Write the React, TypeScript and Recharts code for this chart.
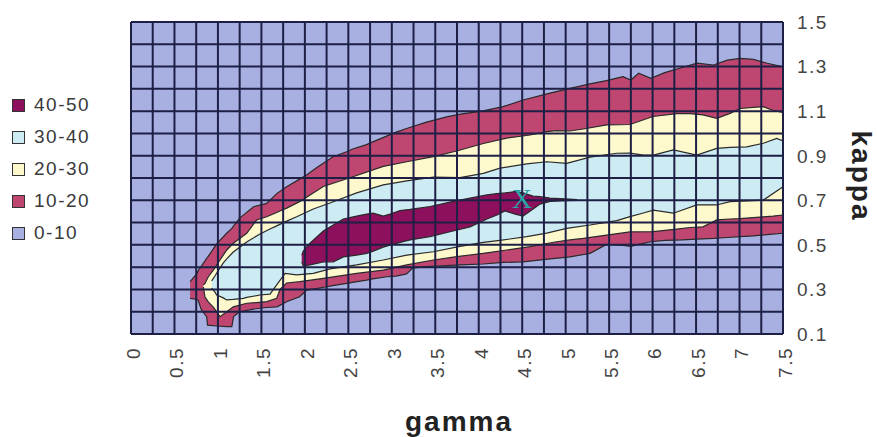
import React from 'react';
import {
  Area,
  CartesianGrid,
  ComposedChart,
  Label,
  Legend,
  Scatter,
  XAxis,
  YAxis,
} from 'recharts';

// legend order, highest level first
const levels = ['40-50', '30-40', '20-30', '10-20', '0-10'];

const gammaTicks = [
  0, 0.25, 0.5, 0.75, 1, 1.25, 1.5, 1.75, 2, 2.25, 2.5, 2.75, 3, 3.25, 3.5, 3.75,
  4, 4.25, 4.5, 4.75, 5, 5.25, 5.5, 5.75, 6, 6.25, 6.5, 6.75, 7, 7.25, 7.5,
];
const gammaLabels = ['0', '0.5', '1', '1.5', '2', '2.5', '3', '3.5', '4', '4.5', '5', '5.5', '6', '6.5', '7', '7.5'];
const kappaTicks = [0.1, 0.2, 0.3, 0.4, 0.5, 0.6, 0.7, 0.8, 0.9, 1, 1.1, 1.2, 1.3, 1.4, 1.5];
const kappaLabels = ['0.1', '0.3', '0.5', '0.7', '0.9', '1.1', '1.3', '1.5'];

// 0-10: whole plot
const gamma0 = [0, 7.5];
const low0 = [0.1, 0.1];
const high0 = [1.5, 1.5];

// 10-20 band
const gamma10 = [
  0.68, 0.76, 0.77, 0.81, 0.87, 0.88, 0.99, 1.1, 1.16, 1.18, 1.25, 1.41, 1.56, 1.68, 1.79, 1.94, 2.02,
  2.13, 2.25, 2.32, 2.48, 2.55, 2.71, 2.78, 2.94, 3.05, 3.17, 3.24, 3.4, 3.63, 3.79, 4.05, 4.28, 4.51,
  4.82, 5.05, 5.28, 5.47, 5.66, 5.75, 5.84, 5.98, 6.14, 6.34, 6.51, 6.7, 6.86, 7.01, 7.16, 7.32, 7.5,
];
const low10 = [
  0.26, 0.255, 0.253, 0.208, 0.178, 0.14, 0.136, 0.133, 0.133, 0.178, 0.2, 0.212, 0.219, 0.222, 0.245,
  0.267, 0.297, 0.304, 0.312, 0.317, 0.327, 0.332, 0.342, 0.347, 0.357, 0.36, 0.37, 0.396, 0.403, 0.407,
  0.41, 0.414, 0.421, 0.424, 0.437, 0.446, 0.462, 0.502, 0.497, 0.493, 0.502, 0.514, 0.52, 0.522, 0.526,
  0.529, 0.533, 0.537, 0.54, 0.546, 0.552,
];
const high10 = [
  0.335, 0.372, 0.383, 0.405, 0.439, 0.444, 0.507, 0.552, 0.574, 0.585, 0.62, 0.671, 0.686, 0.731, 0.761,
  0.795, 0.813, 0.845, 0.876, 0.894, 0.918, 0.93, 0.95, 0.962, 0.988, 1.006, 1.022, 1.031, 1.051, 1.074,
  1.087, 1.101, 1.12, 1.15, 1.181, 1.202, 1.222, 1.237, 1.255, 1.24, 1.27, 1.247, 1.273, 1.296, 1.315,
  1.307, 1.329, 1.337, 1.332, 1.315, 1.299,
];

// 20-30 band
const gamma20 = [
  0.832, 0.851, 0.889, 0.947, 1.024, 1.101, 1.177, 1.331, 1.446, 1.561, 1.676, 1.714, 1.791, 1.944, 2.212,
  2.596, 2.902, 3.172, 3.478, 3.747, 4.053, 4.322, 4.59, 4.782, 4.897, 5.05, 5.203, 5.472, 5.74, 6.005,
  6.278, 6.431, 6.58, 6.738, 6.891, 7.006, 7.271, 7.386, 7.5,
];
const low20 = [
  0.311, 0.266, 0.244, 0.221, 0.178, 0.2, 0.222, 0.238, 0.241, 0.245, 0.26, 0.3, 0.329, 0.335, 0.35,
  0.372, 0.387, 0.41, 0.432, 0.447, 0.462, 0.477, 0.492, 0.506, 0.514, 0.522, 0.529, 0.544, 0.558, 0.559,
  0.571, 0.578, 0.581, 0.612, 0.616, 0.618, 0.626, 0.629, 0.634,
];
const high20 = [
  0.32, 0.327, 0.357, 0.387, 0.432, 0.477, 0.507, 0.552, 0.612, 0.626, 0.645, 0.652, 0.665, 0.695, 0.762,
  0.811, 0.852, 0.873, 0.896, 0.921, 0.955, 0.979, 0.993, 1.008, 1.013, 1.011, 1.02, 1.038, 1.04, 1.076,
  1.089, 1.089, 1.083, 1.068, 1.09, 1.112, 1.12, 1.103, 1.094,
];

// 30-40 band
const gamma30 = [
  0.928, 0.966, 0.986, 1.062, 1.101, 1.177, 1.292, 1.331, 1.484, 1.599, 1.676, 1.772, 1.906, 2.097, 2.289,
  2.596, 2.902, 3.172, 3.478, 3.785, 4.053, 4.245, 4.552, 4.782, 5.012, 5.28, 5.588, 5.74, 5.894, 6.009,
  6.239, 6.508, 6.738, 6.891, 7.083, 7.274, 7.428, 7.5,
];
const low30 = [
  0.306, 0.288, 0.275, 0.262, 0.253, 0.255, 0.26, 0.264, 0.275, 0.279, 0.32, 0.372, 0.365, 0.372, 0.392,
  0.41, 0.432, 0.454, 0.469, 0.493, 0.511, 0.52, 0.537, 0.553, 0.574, 0.589, 0.609, 0.627, 0.643, 0.656,
  0.642, 0.679, 0.679, 0.694, 0.697, 0.701, 0.742, 0.761,
];
const high30 = [
  0.338, 0.36, 0.374, 0.419, 0.437, 0.468, 0.502, 0.513, 0.549, 0.571, 0.585, 0.603, 0.626, 0.661, 0.688,
  0.733, 0.769, 0.787, 0.804, 0.802, 0.821, 0.844, 0.863, 0.873, 0.866, 0.894, 0.911, 0.912, 0.903, 0.903,
  0.926, 0.903, 0.933, 0.937, 0.94, 0.956, 0.978, 0.966,
];

// 40-50 band
const gamma40 = [
  1.964, 1.982, 2.059, 2.212, 2.327, 2.442, 2.596, 2.712, 2.787, 2.902, 2.98, 3.095, 3.21, 3.44, 3.67,
  3.9, 4.095, 4.21, 4.302, 4.418, 4.51, 4.625, 4.705, 4.82, 4.993, 5.131,
];
const low40 = [
  0.423, 0.405, 0.41, 0.423, 0.424, 0.446, 0.454, 0.462, 0.472, 0.49, 0.499, 0.511, 0.522, 0.537, 0.559,
  0.581, 0.616, 0.634, 0.652, 0.638, 0.629, 0.661, 0.683, 0.695, 0.698, 0.7,
];
const high40 = [
  0.454, 0.472, 0.508, 0.562, 0.589, 0.616, 0.629, 0.638, 0.642, 0.629, 0.638, 0.654, 0.659, 0.672, 0.692,
  0.71, 0.724, 0.73, 0.733, 0.739, 0.733, 0.719, 0.716, 0.71, 0.706, 0.703,
];

// the "X" marker
const markGamma = [4.5];
const markKappa = [0.71];

const levelColors: Record<string, string> = {
  '40-50': '#8c105c',
  '30-40': '#cdebf3',
  '20-30': '#fdf9cc',
  '10-20': '#bf4670',
  '0-10': '#a8b0e2',
};

const FONT = '"Liberation Sans", Arial, Helvetica, sans-serif';
const GRID = '#1d1f45';
const EDGE = '#2a2a2a';

function band(g: number[], lo: number[], hi: number[]) {
  return g.map((v, i) => ({ gamma: v, k: [lo[i], hi[i]] }));
}

const marker = markGamma.map((g, i) => ({ gamma: g, kappa: markKappa[i] }));

function GammaTick(props: any) {
  const { x, y, payload } = props;
  const label = String(payload.value);
  if (!gammaLabels.includes(label)) return <g />;
  return (
    <text
      transform={`translate(${x + 2},${y}) rotate(-90)`}
      textAnchor="end"
      dy="0.36em"
      fontSize={19}
      letterSpacing={1.5}
      fill="#444"
      fontFamily={FONT}
    >
      {label}
    </text>
  );
}

function KappaTick(props: any) {
  const { x, y, payload } = props;
  const label = String(payload.value);
  if (!kappaLabels.includes(label)) return <g />;
  return (
    <text x={x} y={y} textAnchor="start" dy="0.36em" fontSize={19} letterSpacing={1.5} fill="#444" fontFamily={FONT}>
      {label}
    </text>
  );
}

const GammaTitle = () => (
  <text x={459} y={431} textAnchor="middle" fontSize={28} fontWeight="bold" letterSpacing={2} fill="#222" fontFamily={FONT}>
    gamma
  </text>
);

const KappaTitle = () => (
  <text
    transform="translate(860,176) rotate(90)"
    textAnchor="middle"
    dy="0.3em"
    fontSize={28}
    fontWeight="bold"
    letterSpacing={2}
    fill="#222"
    fontFamily={FONT}
  >
    kappa
  </text>
);

const XMark = (props: any) => (
  <text x={props.cx} y={props.cy} textAnchor="middle" dy="0.35em" fontSize={28} fill="#27a6a8" fontFamily='"Liberation Serif", serif'>
    X
  </text>
);

const renderLegend = () => (
  <div style={{ fontFamily: FONT, fontSize: 19, letterSpacing: 1.5, color: '#3a3a3a' }}>
    {levels.map((name) => (
      <div key={name} style={{ display: 'flex', alignItems: 'center', height: 32 }}>
        <span
          style={{
            display: 'inline-block',
            width: 11,
            height: 11,
            background: levelColors[name],
            border: '1px solid #333',
            marginRight: 9,
          }}
        />
        <span>{name}</span>
      </div>
    ))}
  </div>
);

export default function App() {
  return (
    <div style={{ position: 'absolute', left: 0, top: 0, width: 877, height: 437, background: '#fff' }}>
      <ComposedChart width={877} height={437} margin={{ top: 22, right: 34, bottom: 13, left: 131 }}>
        <XAxis
          type="number"
          dataKey="gamma"
          domain={[0, 7.5]}
          ticks={gammaTicks}
          interval={0}
          tick={(p: any) => <GammaTick {...p} />}
          tickLine={false}
          axisLine={false}
          tickSize={5}
          tickMargin={8}
          height={90}
          allowDataOverflow
        >
          <Label content={GammaTitle} />
        </XAxis>
        <YAxis
          type="number"
          orientation="right"
          domain={[0.1, 1.5]}
          ticks={kappaTicks}
          interval={0}
          tick={(p: any) => <KappaTick {...p} />}
          tickLine={false}
          axisLine={false}
          tickSize={6}
          tickMargin={8}
          width={60}
          allowDataOverflow
        >
          <Label content={KappaTitle} />
        </YAxis>

        <Area
          data={band(gamma0, low0, high0)}
          dataKey="k"
          name="0-10"
          type="linear"
          fill={levelColors['0-10']}
          fillOpacity={1}
          stroke="none"
          dot={false}
          activeDot={false}
          isAnimationActive={false}
        />
        <Area
          data={band(gamma10, low10, high10)}
          dataKey="k"
          name="10-20"
          type="linear"
          fill={levelColors['10-20']}
          fillOpacity={1}
          stroke={EDGE}
          strokeWidth={1.2}
          dot={false}
          activeDot={false}
          isAnimationActive={false}
        />
        <Area
          data={band(gamma20, low20, high20)}
          dataKey="k"
          name="20-30"
          type="linear"
          fill={levelColors['20-30']}
          fillOpacity={1}
          stroke={EDGE}
          strokeWidth={1.2}
          dot={false}
          activeDot={false}
          isAnimationActive={false}
        />
        <Area
          data={band(gamma30, low30, high30)}
          dataKey="k"
          name="30-40"
          type="linear"
          fill={levelColors['30-40']}
          fillOpacity={1}
          stroke={EDGE}
          strokeWidth={1.2}
          dot={false}
          activeDot={false}
          isAnimationActive={false}
        />
        <Area
          data={band(gamma40, low40, high40)}
          dataKey="k"
          name="40-50"
          type="linear"
          fill={levelColors['40-50']}
          fillOpacity={1}
          stroke={EDGE}
          strokeWidth={1.2}
          dot={false}
          activeDot={false}
          isAnimationActive={false}
        />

        <CartesianGrid stroke={GRID} strokeWidth={2} strokeOpacity={1} zIndex={550} />

        <Scatter data={marker} dataKey="kappa" shape={XMark} isAnimationActive={false} />

        <Legend
          layout="vertical"
          align="center"
          verticalAlign="middle"
          content={renderLegend}
          wrapperStyle={{ left: 12, top: 89, width: 110 }}
        />
      </ComposedChart>
    </div>
  );
}
